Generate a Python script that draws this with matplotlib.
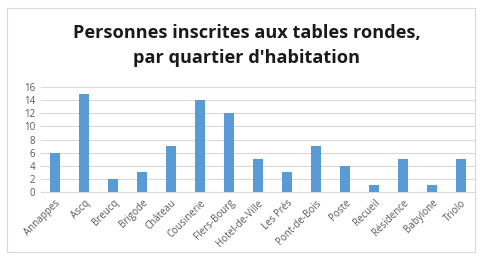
import matplotlib.pyplot as plt
from matplotlib.patches import Rectangle

quartiers = ["Annappes", "Ascq", "Breucq", "Brigode", "Château", "Cousinerie",
             "Flers-Bourg", "Hotel-de-Ville", "Les Prés", "Pont-de-Bois", "Poste",
             "Recueil", "Résidence", "Babylone", "Triolo"]
inscrits = [6, 15, 2, 3, 7, 14, 12, 5, 3, 7, 4, 1, 5, 1, 5]

plt.rcParams['font.family'] = ['Open Sans', 'DejaVu Sans']

fig = plt.figure(figsize=(4.81, 2.62), dpi=100)
fig.patches.append(Rectangle((7/481, 1-252/262), 468/481, 244/262, transform=fig.transFigure,
                             fill=False, edgecolor='#d9d9d9', linewidth=0.8))
ax = fig.add_axes([40.5/481, 1-192/262, 435/481, 105/262])

x = range(len(quartiers))
ax.bar(x, inscrits, width=0.35, color='#5b9bd5', zorder=3)
ax.set_xlim(-0.5, len(quartiers) - 0.5)
ax.set_ylim(0, 16)
ax.set_yticks(range(0, 17, 2))
ax.grid(axis='y', color='#d9d9d9', linewidth=0.8, zorder=0)
ax.set_xticks(list(x))
ax.set_xticklabels(quartiers, rotation=45, ha='right', rotation_mode='anchor',
                   fontsize=7, color='#595959')
ax.tick_params(axis='y', labelsize=7, labelcolor='#595959', length=0, pad=4)
ax.tick_params(axis='x', length=0, pad=4)
for s in ['top', 'right', 'left']:
    ax.spines[s].set_visible(False)
ax.spines['bottom'].set_color('#d9d9d9')

# titre centré comme sur l'original (légèrement à droite)
tx = 247 / 481
fig.text(tx, 1-33/262, "Personnes inscrites aux tables rondes,", ha='center', va='center',
         fontsize=13.1, fontweight='bold', color='#1a1a1a')
fig.text(tx, 1-58/262, "par quartier d'habitation", ha='center', va='center',
         fontsize=13.1, fontweight='bold', color='#1a1a1a')

fig.savefig('out.png', dpi=100)
